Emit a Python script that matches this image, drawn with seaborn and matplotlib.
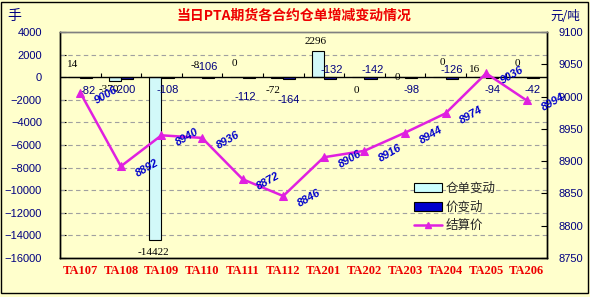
import numpy as np
import pandas as pd
import matplotlib
matplotlib.use("Agg")
import matplotlib.pyplot as plt
import seaborn as sns
from matplotlib.patches import Rectangle
from matplotlib.lines import Line2D
from matplotlib.patches import Patch

# ---------------- data ----------------
contracts = ["TA107", "TA108", "TA109", "TA110", "TA111", "TA112",
             "TA201", "TA202", "TA203", "TA204", "TA205", "TA206"]
warrant_change = [14, -370, -14422, -8, 0, -72, 2296, 0, 0, 0, 16, 0]
price_change = [-82, -200, -108, -106, -112, -164, -132, -142, -98, -126, -94, -42]
settle_price = [9006, 8892, 8940, 8936, 8872, 8846, 8906, 8916, 8944, 8974, 9036, 8994]
series_names = ["仓单变动", "价变动", "结算价"]
title = "当日PTA期货各合约仓单增减变动情况"

# ---------------- style ----------------
BG = "#FFFFCC"
NAVY = "#000080"
sns.set_theme(style="white", rc={"figure.facecolor": BG, "axes.facecolor": BG})
plt.rcParams["font.family"] = ["Noto Sans CJK SC", "DejaVu Sans"]

df = pd.DataFrame({
    "合约": contracts * 2,
    "值": warrant_change + price_change,
    "系列": [series_names[0]] * len(contracts) + [series_names[1]] * len(contracts),
})

fig = plt.figure(figsize=(5.9, 2.97), dpi=100)
ax = fig.add_axes([60 / 590, 1 - 258 / 297, 487 / 590, 226 / 297])

sns.barplot(data=df, x="合约", y="值", hue="系列", hue_order=series_names[:2],
            palette=["#CCFFFF", "#0000CC"], width=0.6, edgecolor="black",
            linewidth=0.8, ax=ax, legend=False, zorder=3)

ax.set_ylim(-16000, 4000)
ax.set_yticks(np.arange(-16000, 4001, 2000))
ax.set_xlim(-0.5, len(contracts) - 0.5)
ax.set_xlabel("")
ax.set_ylabel("")
for yv in np.arange(-14000, 2001, 2000):
    if yv != 0:
        ax.axhline(yv, color="#A0A0A0", lw=0.8, ls=(0, (4, 3)), zorder=1)
ax.axhline(0, color="black", lw=1.0, zorder=4)
ax.vlines(np.arange(len(contracts) - 1) + 0.5, 0, 400, color="black", lw=0.8, zorder=4)

ax.tick_params(axis="y", direction="in", length=4, width=0.8, color="black",
               pad=13, labelsize=8, labelcolor=NAVY, left=True)
for t in ax.get_yticklabels():
    t.set_family(["Liberation Sans", "DejaVu Sans"])
ax.tick_params(axis="x", length=0, pad=5)
for t in ax.get_xticklabels():
    t.set_family(["Liberation Serif", "DejaVu Serif"])
    t.set_fontweight("bold")
    t.set_fontsize(9)
    t.set_color("#EE0000")

# bar labels
wh_off = [(-2, 13), (-6, -8), (-2, -12), (-1, 12), (-2, 14), (-4, -12),
          (-2, 10), (-2, -13), (-1, 0), (3, 15), (-5, 8), (-3, 14)]
pc_off = [(1, -13), (-2, -11), (0, -12), (-1, 11), (-3, -19), (-1, -21),
          (2, 9), (2, 9), (1, -12), (0, 9), (0, -12), (0, -12)]
for bar, val, off in zip(ax.containers[0], warrant_change, wh_off):
    ax.annotate(f"{val}", (bar.get_x() + bar.get_width() / 2, bar.get_height()),
                xytext=off, textcoords="offset pixels", ha="center", va="center",
                fontsize=8, color="black", family=["Liberation Serif", "DejaVu Serif"],
                zorder=6)
for bar, val, off in zip(ax.containers[1], price_change, pc_off):
    ax.annotate(f"{val}", (bar.get_x() + bar.get_width() / 2, bar.get_height()),
                xytext=off, textcoords="offset pixels", ha="center", va="center",
                fontsize=8, color=NAVY, family=["Liberation Sans", "DejaVu Sans"],
                zorder=6)

# price line
ax2 = ax.twinx()
ax2.patch.set_visible(False)
LINE = "#E020E0"
sns.lineplot(x=np.arange(len(contracts)), y=settle_price, ax=ax2, color=LINE,
             lw=1.8, marker="^", markersize=6, markeredgecolor=LINE, zorder=5)
ax2.set_ylim(8750, 9100)
ax2.set_yticks(np.arange(8750, 9101, 50))
ax2.tick_params(axis="y", direction="in", length=4, width=0.8, color="black",
                pad=8, labelsize=8, labelcolor=NAVY, right=True)
for t in ax2.get_yticklabels():
    t.set_family(["Liberation Sans", "DejaVu Sans"])
for i, p in enumerate(settle_price):
    ax2.annotate(f"{p}", (i, p), xytext=(26, -2), textcoords="offset pixels",
                 rotation=30, ha="center", va="center", fontsize=8,
                 fontweight="bold", fontstyle="italic", color="#0000CC",
                 family=["Liberation Sans", "DejaVu Sans"], zorder=7)

for a in (ax, ax2):
    for side in ("left", "right", "bottom"):
        a.spines[side].set_color("black")
        a.spines[side].set_linewidth(1.0)
    a.spines["top"].set_color("#808080")
    a.spines["top"].set_linewidth(1.0)
    a.grid(False)

# legend
handles = [Patch(facecolor="#CCFFFF", edgecolor="black", lw=0.8),
           Patch(facecolor="#0000CC", edgecolor="black", lw=0.8),
           Line2D([0], [0], color=LINE, lw=1.8, marker="^", markersize=5)]
ax2.legend(handles, series_names, loc="upper left",
           bbox_to_anchor=(414 / 590, 1 - 182 / 297), bbox_transform=fig.transFigure,
           frameon=False, fontsize=9, handlelength=2.2, handleheight=0.8,
           handletextpad=0.3, labelspacing=0.45, borderpad=0, borderaxespad=0)

# titles
fig.text(294 / 590, 1 - 16 / 297, title, ha="center", va="center", fontsize=10,
         fontweight="bold", color="#EE0000")
fig.text(14 / 590, 1 - 16 / 297, "手", ha="center", va="center", fontsize=10, color=NAVY)
fig.text(565 / 590, 1 - 16 / 297, "元/吨", ha="center", va="center", fontsize=9, color=NAVY)

# outer border
fig.patches.append(Rectangle((1 / 590, 1 - 293 / 297), 587 / 590, 291 / 297,
                             transform=fig.transFigure, fill=False,
                             edgecolor="black", lw=1.0))

fig.savefig("out.png", dpi=100, facecolor=BG)
